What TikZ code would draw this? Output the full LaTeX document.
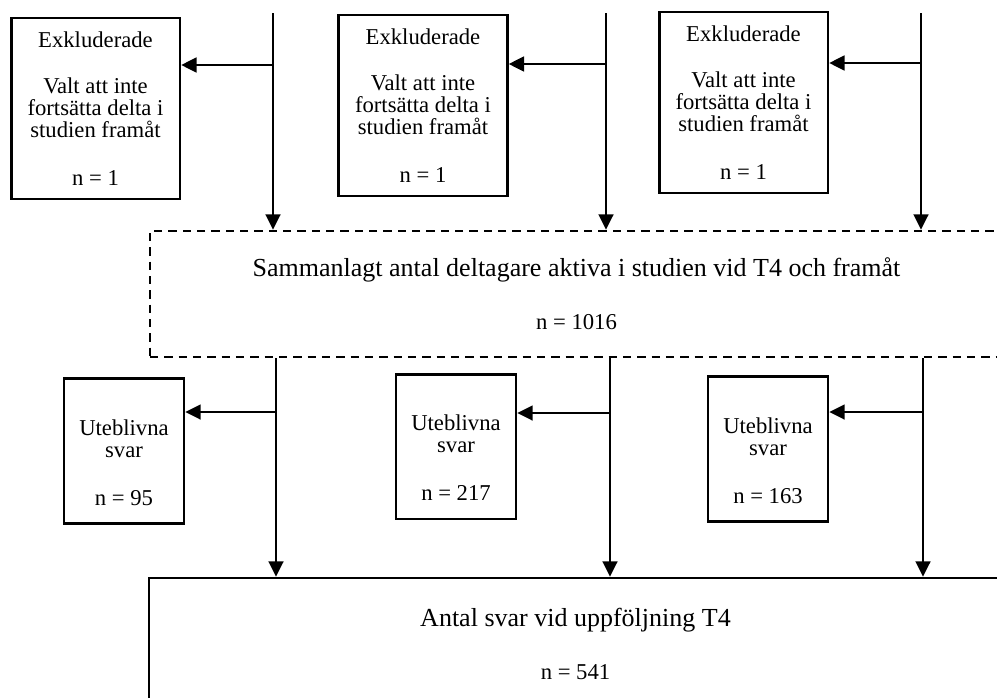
\documentclass[tikz,border=0pt]{standalone}
\usepackage{fontspec}
\setmainfont{Liberation Serif}
\usetikzlibrary{arrows.meta}

\newcommand{\bigline}[1]{{\fontsize{19.5}{16.5}\selectfont #1}}

\tikzset{
  flowbox/.style={draw, line width=2pt, align=center, inner sep=0pt},
  exbox/.style={flowbox, minimum width=126.5pt, minimum height=135.75pt},
  utbox/.style={flowbox, minimum width=90pt, minimum height=108.5pt},
  widebox/.style={flowbox, minimum width=640pt},
  flowline/.style={line width=2pt},
  flowarrow/.style={flowline, -{Triangle[length=11.5pt,width=11pt]}}
}

\begin{document}
\begin{tikzpicture}[x=0.75pt,y=-0.75pt,font=\fontsize{17}{16.5}\selectfont]
    \useasboundingbox (0,0) rectangle (997,697);
    \clip (0,0) rectangle (997,697);

    % Top row: excluded participants
    \node[exbox] (ex1) at (95.5,108.5) {Exkluderade\\[18pt]Valt att inte\\fortsätta delta i\\studien framåt\\[19.5pt]n = 1};
    \node[exbox] (ex2) at (423,105.5) {Exkluderade\\[18pt]Valt att inte\\fortsätta delta i\\studien framåt\\[19.5pt]n = 1};
    \node[exbox] (ex3) at (743.5,102.5) {Exkluderade\\[18pt]Valt att inte\\fortsätta delta i\\studien framåt\\[19.5pt]n = 1};

    % Active participants (dashed)
    \node[widebox, dash pattern=on 6.25pt off 4.5pt, minimum height=94.5pt] (sum) at (576.5,294)
        {\bigline{Sammanlagt antal deltagare aktiva i studien vid T4 och framåt}\\[23.25pt]n = 1016};

    % Middle row: missing answers
    \node[utbox] (ut1) at (124,451) {\rule{0pt}{29pt}Uteblivna\\svar\\[19.5pt]n = 95};
    \node[utbox] (ut2) at (456,446.5) {\rule{0pt}{29pt}Uteblivna\\svar\\[19.5pt]n = 217};
    \node[utbox] (ut3) at (768,449) {\rule{0pt}{29pt}Uteblivna\\svar\\[19.5pt]n = 163};

    % Answers at follow-up
    \node[widebox, minimum height=99pt] (ans) at (575.5,644)
        {\bigline{Antal svar vid uppföljning T4}\\[23.25pt]n = 541};

    % Flow lines, top
    \coordinate (t1) at (273,13);  \coordinate (b1) at (273,65);
    \coordinate (t2) at (606,13);  \coordinate (b2) at (606,64);
    \coordinate (t3) at (921,13);  \coordinate (b3) at (921,63);
    \draw[flowarrow] (t1) -- (t1 |- sum.north);
    \draw[flowarrow] (t2) -- (t2 |- sum.north);
    \draw[flowarrow] (t3) -- (t3 |- sum.north);
    \draw[flowarrow] (b1) -- (b1 -| ex1.east);
    \draw[flowarrow] (b2) -- (b2 -| ex2.east);
    \draw[flowarrow] (b3) -- (b3 -| ex3.east);

    % Flow lines, bottom
    \coordinate (m1) at (276,412);
    \coordinate (m2) at (610,413);
    \coordinate (m3) at (923,412);
    \draw[flowarrow] (m1 |- sum.south) -- (m1 |- ans.north);
    \draw[flowarrow] (m2 |- sum.south) -- (m2 |- ans.north);
    \draw[flowarrow] (m3 |- sum.south) -- (m3 |- ans.north);
    \draw[flowarrow] (m1) -- (m1 -| ut1.east);
    \draw[flowarrow] (m2) -- (m2 -| ut2.east);
    \draw[flowarrow] (m3) -- (m3 -| ut3.east);

\end{tikzpicture}
\end{document}
